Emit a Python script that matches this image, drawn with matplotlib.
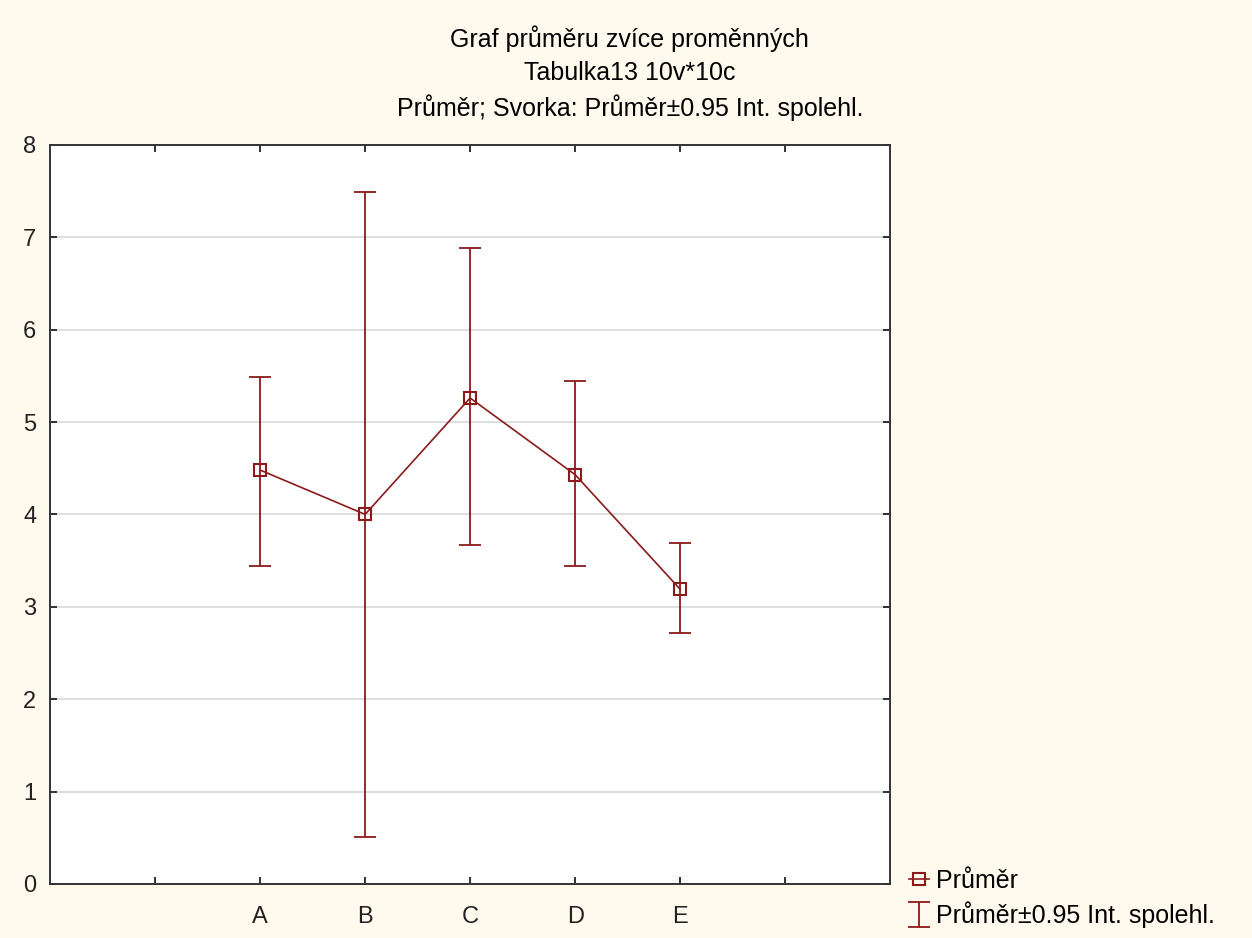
import matplotlib
matplotlib.use('Agg')
import matplotlib.pyplot as plt
import numpy as np

# Data
categories = ['A', 'B', 'C', 'D', 'E']
means = [4.48, 4.00, 5.26, 4.43, 3.19]
ci_upper = [5.49, 7.49, 6.88, 5.44, 3.69]
ci_lower = [3.44, 0.51, 3.67, 3.44, 2.72]

plt.rcParams['font.family'] = ['Liberation Sans', 'DejaVu Sans']

red = '#8b1a1a'
bg = '#fff9ee'

fig = plt.figure(figsize=(12.52, 9.38), dpi=100, facecolor=bg)
ax = fig.add_axes([0.040, 0.0576, 0.671, 0.788])
ax.set_facecolor('white')

x = np.arange(2, 2 + len(categories))
means_a = np.array(means)
yerr = [means_a - np.array(ci_lower), np.array(ci_upper) - means_a]

ax.errorbar(x, means, yerr=yerr, fmt='none', ecolor=red, elinewidth=1.3,
            capsize=8, capthick=1.3, label='Průměr±0.95 Int. spolehl.', zorder=3)
ax.plot(x, means, color=red, lw=1.2, marker='s', ms=8, mfc='none', mec=red,
        mew=1.5, label='Průměr', zorder=4)

ax.set_xlim(0, 8)
ax.set_ylim(0, 8)
ax.set_xticks(range(1, 8))
ax.set_xticklabels([''] + categories + [''])
ax.set_yticks(range(0, 9))
ax.yaxis.grid(True, color='#d8d8d8', lw=1.2)
ax.set_axisbelow(True)
ax.tick_params(direction='in', length=5, width=1.3, top=True, right=True,
               labelsize=17, colors='#222222')
ax.tick_params(axis='x', pad=16)
ax.tick_params(axis='y', pad=10)
for s in ax.spines.values():
    s.set_linewidth(1.4)
    s.set_color('#333333')

fig.text(0.503, 0.959, 'Graf průměru zvíce proměnných', ha='center', va='center', fontsize=18)
fig.text(0.503, 0.922, 'Tabulka13 10v*10c', ha='center', va='center', fontsize=18)
fig.text(0.503, 0.885, 'Průměr; Svorka: Průměr±0.95 Int. spolehl.', ha='center', va='center', fontsize=18)

h, l = ax.get_legend_handles_labels()
fig.legend(h, l, loc='lower left', bbox_to_anchor=(0.718, 0.0),
           frameon=False, fontsize=18, handlelength=0.8, handletextpad=0.3,
           labelspacing=0.35, borderaxespad=0)

fig.savefig('out.png', dpi=100, facecolor=bg)
